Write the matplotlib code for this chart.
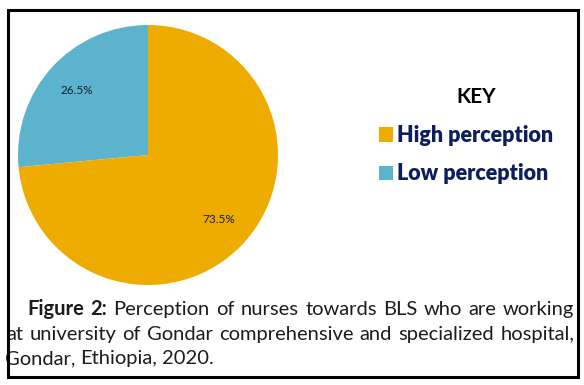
import matplotlib
matplotlib.use("Agg")
import matplotlib.pyplot as plt
from matplotlib.patches import Rectangle, Patch

W, H = 584, 385

# data
labels = ["Low perception", "High perception"]
shares = [26.5, 73.5]
colors = ["#5BB3CE", "#EEAB00"]
key_order = [1, 0]

caption_lines = [
    [("Figure", "bold"), ("2:", "bold"), ("Perception", "normal"), ("of", "normal"),
     ("nurses", "normal"), ("towards", "normal"), ("BLS", "normal"), ("who", "normal"),
     ("are", "normal"), ("working", "normal")],
    [(w, "normal") for w in "at university of Gondar comprehensive and specialized hospital,".split()],
    [(w, "normal") for w in "Gondar, Ethiopia, 2020.".split()],
]

fig = plt.figure(figsize=(W / 100, H / 100), dpi=100)
fig.patch.set_facecolor("white")

def fx(x):
    return x / W

def fy(y):
    return 1 - y / H

# pie: centre (148,155), radius 130 px
ax = fig.add_axes([fx(18), fy(285), 260 / W, 260 / H])
wedges, texts, autotexts = ax.pie(shares, colors=colors, startangle=90, counterclock=True,
                                  autopct="%.1f%%", pctdistance=0.74,
                                  textprops={"fontsize": 8.5, "color": "#1a1a2e", "family": "Lato"},
                                  wedgeprops={"linewidth": 0})
ax.set_xlim(-1, 1)
ax.set_ylim(-1, 1)
ax.set_aspect("equal")
ax.axis("off")

# key
fig.text(fx(476), fy(97), "KEY", fontsize=15, fontweight="bold", family="Lato",
         ha="center", va="center", color="black")
handles = [Patch(facecolor=colors[i], edgecolor="none") for i in key_order]
leg = fig.legend(handles, [labels[i] for i in key_order], loc="upper left",
                 bbox_to_anchor=(fx(364), fy(110)), frameon=False,
                 prop={"family": "Lato", "weight": "heavy", "size": 15.5},
                 handlelength=0.65, handleheight=0.65, handletextpad=0.2,
                 labelspacing=0.8, borderpad=0.2)
for t in leg.get_texts():
    t.set_color("#0E1E5B")

# caption, justified
renderer = fig.canvas.get_renderer()
cap_size = 14.5

def place_line(words, y, x0, x1, justify=True):
    arts = []
    for w, wt in words:
        t = fig.text(0, fy(y), w, fontsize=cap_size, fontweight=wt, family="Lato",
                     color="#1c1c1c", va="baseline", ha="left")
        arts.append(t)
    widths = [a.get_window_extent(renderer).width for a in arts]
    if justify:
        gap = (x1 - x0 - sum(widths)) / (len(arts) - 1)
    else:
        gap = 5
    x = x0
    for a, w in zip(arts, widths):
        a.set_x(fx(x))
        x += w + gap

place_line(caption_lines[0], 315, 27, 574)
place_line(caption_lines[1], 340, 6, 574)
place_line(caption_lines[2], 364, 5, 574, justify=False)

# outer frame
fig.add_artist(Rectangle((fx(8), fy(377)), fx(578) - fx(8), fy(10) - fy(377),
                         transform=fig.transFigure, fill=False, edgecolor="black",
                         linewidth=2.2, zorder=10))

fig.savefig("out.png", dpi=100)
